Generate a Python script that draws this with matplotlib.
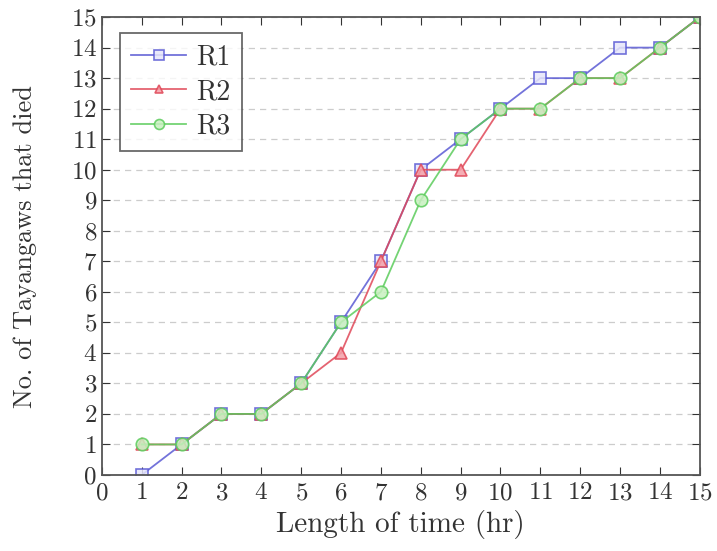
import matplotlib
matplotlib.use("Agg")
import matplotlib.pyplot as plt

hours = list(range(1, 16))
r1 = [0, 1, 2, 2, 3, 5, 7, 10, 11, 12, 13, 13, 14, 14, 15]
r2 = [1, 1, 2, 2, 3, 4, 7, 10, 10, 12, 12, 13, 13, 14, 15]
r3 = [1, 1, 2, 2, 3, 5, 6, 9, 11, 12, 12, 13, 13, 14, 15]
series_names = ["R1", "R2", "R3"]
x_ticks = list(range(0, 16))
y_ticks = list(range(0, 16))

plt.rcParams['font.family'] = ['cmr10', 'DejaVu Serif']
plt.rcParams['axes.formatter.use_mathtext'] = True
plt.rcParams['mathtext.fontset'] = 'cm'

fig = plt.figure(figsize=(7.17, 5.51), dpi=100)
ax = fig.add_axes([0.142, 0.138, 0.834, 0.831])

styles = [
    dict(color="#5a5ad4", marker="s", mfc="#e6e6fa", ms=9),
    dict(color="#e04858", marker="^", mfc="#f4a0a8", ms=8),
    dict(color="#5ccc5c", marker="o", mfc="#c8f0c0", ms=9),
]
for ys, name, st in zip([r1, r2, r3], series_names, styles):
    ax.plot(hours, ys, color=st["color"], marker=st["marker"], markersize=st["ms"],
            markerfacecolor=st["mfc"], markeredgecolor=st["color"], markeredgewidth=1.2,
            linewidth=1.3, label=name, alpha=0.85)

ax.set_xlim(0, 15)
ax.set_ylim(0, 15)
ax.set_xticks(x_ticks)
ax.set_yticks(y_ticks)
ax.tick_params(direction="in", top=True, right=True, length=6, labelsize=18, colors="#333333")
ax.tick_params(axis="x", pad=5)
ax.yaxis.grid(True, linestyle=(0, (5, 4)), color="#cccccc", linewidth=0.9)
ax.set_axisbelow(True)
for s in ax.spines.values():
    s.set_color("#555555")
    s.set_linewidth(1.3)

ax.set_xlabel("Length of time (hr)", fontsize=21, color="#333333", labelpad=4)
ax.set_ylabel("No. of Tayangaws that died", fontsize=19, color="#333333", labelpad=24)

leg = ax.legend(loc="upper left", fontsize=20, frameon=True, fancybox=False,
                edgecolor="#444444", borderpad=0.4, handlelength=2.0, markerscale=0.8,
                handletextpad=0.35, labelspacing=0.3, borderaxespad=0.0,
                bbox_to_anchor=(0.03, 0.965))
leg.get_frame().set_linewidth(1.3)
for t in leg.get_texts():
    t.set_color("#333333")

fig.savefig("out.png", dpi=100)
